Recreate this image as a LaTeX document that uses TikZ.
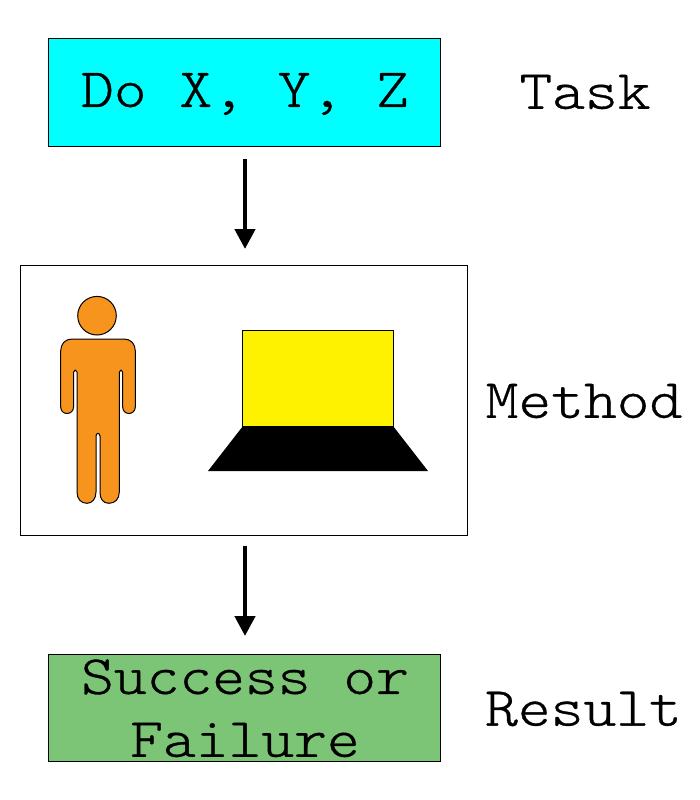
\documentclass[tikz,border=0pt]{standalone}
\usepackage{fontspec}
\setmonofont[FakeStretch=1.125,FakeBold=0.6]{Latin Modern Mono Light}
\definecolor{cyanP}{HTML}{00FFFF}
\definecolor{orangeP}{HTML}{F7941E}
\definecolor{yellowP}{HTML}{FFF200}
\definecolor{greenP}{HTML}{7DC576}
\usetikzlibrary{arrows.meta}
\tikzset{
  box/.style={draw=black,line width=1pt,minimum width=#1,inner sep=0pt,anchor=north west},
  lab/.style={font=\ttfamily\fontsize{55.5}{55.5}\selectfont,inner sep=0pt},
  flow/.style={line width=4.5pt,-{Triangle[length=20pt,width=20pt]}},
}
\begin{document}
\begin{tikzpicture}[x=1pt,y=-1pt]
\useasboundingbox (0,0) rectangle (700,800);
\node[box=392pt,minimum height=107pt,fill=cyanP] (task) at (48,38.5) {};
\node[box=447pt,minimum height=270pt,fill=white] (method) at (20,264.5) {};
\node[box=392pt,minimum height=107pt,fill=greenP] (result) at (48,653.5) {};
\node[lab] (t1) at (245,94) {Do X, Y, Z};
\node[lab] (t2) at (245,677) {Success or};
\node[lab] (t3) at (245,740) {Failure};
\node[lab] (l1) at (585,92) {Task};
\node[lab] (l2) at (584,401) {Method};
\node[lab] (l3) at (583.5,709) {Result};
\coordinate (a1) at (245,159);
\coordinate (a2) at (245,249);
\coordinate (b1) at (245,546);
\coordinate (b2) at (245,636);
\draw[flow] (a1) -- (a2);
\draw[flow] (b1) -- (b2);
% person
\draw[fill=orangeP,line width=1pt] (97,315.7) circle (19.3);
\draw[fill=orangeP,line width=1pt,line join=round]
  (72,339) -- (124,339) .. controls (131,339) and (135.3,344) .. (135.3,351)
  -- (135.3,407) .. controls (135.3,411) and (132,413.5) .. (129,413.5)
  .. controls (125.5,413.5) and (122.7,411) .. (122.7,407)
  -- (122.7,372) .. controls (122.7,369.5) and (119.3,369.5) .. (119.3,372)
  -- (119.3,492) .. controls (119.3,499) and (115,503.3) .. (109,503.3)
  .. controls (103,503.3) and (100,499) .. (100,492)
  -- (100,436) .. controls (100,432.5) and (96,432.5) .. (96,436)
  -- (96,492) .. controls (96,499) and (92,503.3) .. (87,503.3)
  .. controls (81,503.3) and (77,499) .. (77,492)
  -- (77,372) .. controls (77,369.5) and (73.5,369.5) .. (73.5,372)
  -- (73.5,407) .. controls (73.5,411) and (70.5,413.5) .. (67,413.5)
  .. controls (63.5,413.5) and (60.7,411) .. (60.7,407)
  -- (60.7,351) .. controls (60.7,344) and (65,339) .. (72,339) -- cycle;
% laptop
\draw[fill=yellowP,line width=1pt] (242.7,330.5) rectangle (393,426);
\fill[black] (243,426) -- (393,426) -- (428,471) -- (208,471) -- cycle;
\end{tikzpicture}
\end{document}
